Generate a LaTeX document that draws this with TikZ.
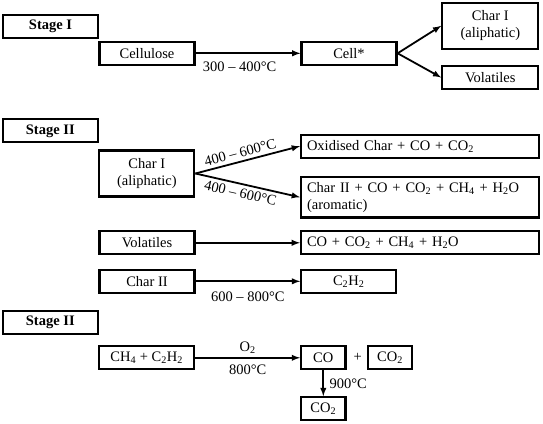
\documentclass[tikz,border=0pt]{standalone}
\usepackage{fontspec}
\setmainfont{Liberation Serif}
\usetikzlibrary{arrows}

\begin{document}
\begin{tikzpicture}[x=1pt,y=-1pt,font=\fontsize{14.5}{17}\selectfont,
    box/.style={draw,line width=2.2pt,inner sep=0pt,minimum height=23pt},
    stagebox/.style={box,minimum width=95pt,font=\fontsize{14.5}{17}\selectfont\bfseries},
    smallbox/.style={box,minimum width=95pt},
    tinybox/.style={box,minimum width=44.5pt},
    widebox/.style={box,text width=226pt,inner xsep=6pt,align=left},
    flow/.style={->,>=latex,line width=1.8pt}]
    \useasboundingbox (0,0) rectangle (543,423);
    % Stage I
    \node[stagebox] (stageI) at (50.5,26.2) {Stage I};
    \node[smallbox] (cell) at (147,53.3) {Cellulose};
    \node[smallbox] (cellstar) at (349,53.3) {Cell*};
    \node[box,minimum width=96pt,minimum height=46pt,align=center] (charIa) at (490.3,25.8) {Char I\\(aliphatic)};
    \node[box,minimum width=96pt] (vola) at (490.3,77.5) {Volatiles};
    \draw[flow] (cell) -- node[pos=0.42,below,yshift=-4pt] {300 -- 400°C} (cellstar);
    \draw[flow] (cellstar.east) -- (charIa.west);
    \draw[flow] (cellstar.east) -- (vola.west);
    % Stage II
    \node[stagebox] (stageII) at (50.3,130.8) {Stage II};
    \node[smallbox,minimum height=46pt,align=center] (charIb) at (146.8,173.5) {Char I\\(aliphatic)};
    \node[widebox] (oxid) at (420,146.2) {Oxidised Char + CO + CO\textsubscript{2}};
    \node[widebox,minimum height=40.5pt] (charII) at (420,197.2) {Char II + CO + CO\textsubscript{2} + CH\textsubscript{4} + H\textsubscript{2}O\\(aromatic)};
    \draw[flow] (charIb.east) -- node[pos=0.45,above,sloped] {400 -- 600°C} (oxid.west);
    \draw[flow] (charIb.east) -- node[pos=0.45,below,sloped] {400 -- 600°C} (charII.west);
    \node[smallbox] (volb) at (147,242.8) {Volatiles};
    \node[widebox] (gas) at (420,242.8) {CO + CO\textsubscript{2} + CH\textsubscript{4} + H\textsubscript{2}O};
    \draw[flow] (volb) -- (gas);
    \node[smallbox] (charIIb) at (147,281.3) {Char II};
    \node[smallbox] (acet) at (348.7,281.3) {C\textsubscript{2}H\textsubscript{2}};
    \draw[flow] (charIIb) -- node[below,yshift=-6pt] {600 -- 800°C} (acet);
    % Stage III
    \node[stagebox] (stageIII) at (50.3,322.3) {Stage II};
    \node[smallbox] (mix) at (146.7,357.8) {CH\textsubscript{4} + C\textsubscript{2}H\textsubscript{2}};
    \node[tinybox] (coa) at (323.3,357.8) {CO};
    \node (plus) at (357.7,357.8) {+};
    \node[tinybox] (co2a) at (390,357.8) {CO\textsubscript{2}};
    \node[tinybox] (co2b) at (323.3,408.7) {CO\textsubscript{2}};
    \draw[flow] (mix) -- node[above] {O\textsubscript{2}} node[below,yshift=-3pt] {800°C} (coa);
    \draw[flow] (coa) -- node[right,xshift=2pt] {900°C} (co2b);
\end{tikzpicture}
\end{document}
